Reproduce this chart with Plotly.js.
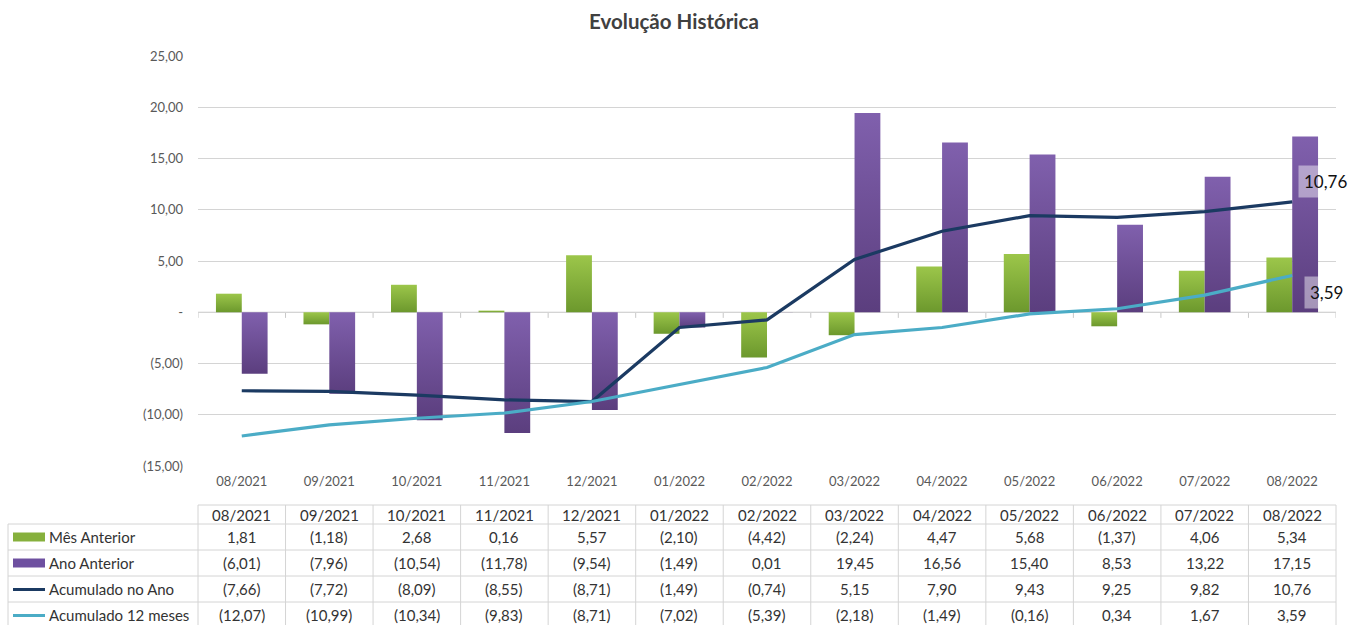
<!DOCTYPE html>
<html>
<head>
<meta charset="utf-8">
<script src="https://cdn.plot.ly/plotly-3.0.1.min.js"></script>
<style>html,body{margin:0;padding:0;background:#fff;}#chart{width:1348px;height:625px;}</style>
</head>
<body>
<div id="chart"></div>
<script>
// ---- data ----
const months = ["08/2021","09/2021","10/2021","11/2021","12/2021","01/2022","02/2022","03/2022","04/2022","05/2022","06/2022","07/2022","08/2022"];
const mesAnterior = [1.81,-1.18,2.68,0.16,5.57,-2.10,-4.42,-2.24,4.47,5.68,-1.37,4.06,5.34];
const anoAnterior = [-6.01,-7.96,-10.54,-11.78,-9.54,-1.49,0.01,19.45,16.56,15.40,8.53,13.22,17.15];
const acumuladoAno = [-7.66,-7.72,-8.09,-8.55,-8.71,-1.49,-0.74,5.15,7.90,9.43,9.25,9.82,10.76];
const acumulado12 = [-12.07,-10.99,-10.34,-9.83,-8.71,-7.02,-5.39,-2.18,-1.49,-0.16,0.34,1.67,3.59];
const seriesNames = ["Mês Anterior","Ano Anterior","Acumulado no Ano","Acumulado 12 meses"];
const yTicks = [25,20,15,10,5,0,-5,-10,-15];

function fmt(v){
  if (v === 0) return "-";
  const s = Math.abs(v).toFixed(2).replace(".", ",");
  return v < 0 ? "(" + s + ")" : s;
}

const W = 1348, H = 625;
const M = {l:198, r:12, t:56, b:159};
const PW = W - M.l - M.r, PH = H - M.t - M.b;
const px = x => (x - M.l) / PW;
const py = y => (H - M.b - y) / PH;

const cGreen = "#86B03C", cPurple = "#6E50A0", cNavy = "#1B3A62", cLight = "#4BACC6";
const font = "Lato, 'Open Sans', sans-serif";

const traces = [
  {type:"bar", name:seriesNames[0], x:months, y:mesAnterior, marker:{color:cGreen}},
  {type:"bar", name:seriesNames[1], x:months, y:anoAnterior, marker:{color:cPurple}},
  {type:"scatter", mode:"lines", name:seriesNames[2], x:months, y:acumuladoAno, line:{color:cNavy, width:3.2}},
  {type:"scatter", mode:"lines", name:seriesNames[3], x:months, y:acumulado12, line:{color:cLight, width:3.2}}
];

const shapes = [];
const annotations = [];
const gridC = "#D4D4D4";

// zero axis line with boundary ticks
shapes.push({type:"line", xref:"paper", yref:"y", x0:0, x1:1, y0:0, y1:0, line:{color:"#C8C8C8", width:1.2}, layer:"below"});
for (let k=0;k<=months.length;k++){
  shapes.push({type:"line", xref:"x", yref:"y", x0:k-0.5, x1:k-0.5, y0:0, y1:-0.55, line:{color:"#C8C8C8", width:1}, layer:"below"});
}

// data table
const rowsY = [505,524,550,576,602,628];
shapes.push({type:"line", xref:"paper", yref:"paper", x0:0, x1:1, y0:py(rowsY[0]), y1:py(rowsY[0]), line:{color:gridC, width:1}});
for (let r=1;r<rowsY.length;r++){
  shapes.push({type:"line", xref:"paper", yref:"paper", x0:px(8), x1:1, y0:py(rowsY[r]), y1:py(rowsY[r]), line:{color:gridC, width:1}});
}
shapes.push({type:"line", xref:"paper", yref:"paper", x0:px(8), x1:px(8), y0:py(rowsY[1]), y1:py(rowsY[5]), line:{color:gridC, width:1}});
for (let k=0;k<=months.length;k++){
  shapes.push({type:"line", xref:"paper", yref:"paper", x0:k/months.length, x1:k/months.length, y0:py(rowsY[0]), y1:py(rowsY[5]), line:{color:gridC, width:1}});
}
const tFont = {family:font, size:15, color:"#333333"};
const rowVals = [mesAnterior, anoAnterior, acumuladoAno, acumulado12];
months.forEach((m,i)=>{
  annotations.push({xref:"x", yref:"paper", x:m, y:py((rowsY[0]+rowsY[1])/2), text:m, showarrow:false, font:tFont, xanchor:"center", yanchor:"middle"});
  rowVals.forEach((arr,r)=>{
    annotations.push({xref:"x", yref:"paper", x:m, y:py((rowsY[r+1]+rowsY[r+2])/2), text:fmt(arr[i]), showarrow:false, font:tFont, xanchor:"center", yanchor:"middle"});
  });
});
// legend keys in table
const keyColors = [cGreen, cPurple, cNavy, cLight];
seriesNames.forEach((n,r)=>{
  const cy = (rowsY[r+1]+rowsY[r+2])/2;
  if (r<2){
    shapes.push({type:"rect", xref:"paper", yref:"paper", x0:px(13), x1:px(45), y0:py(cy-4.5), y1:py(cy+4.5), fillcolor:keyColors[r], line:{width:0}});
  } else {
    shapes.push({type:"line", xref:"paper", yref:"paper", x0:px(13), x1:px(45), y0:py(cy+0.5), y1:py(cy+0.5), line:{color:keyColors[r], width:3}});
  }
  annotations.push({xref:"paper", yref:"paper", x:px(47), y:py(cy), text:n, showarrow:false, font:tFont, xanchor:"left", yanchor:"middle"});
});

// end labels
const last = months.length-1;
annotations.push({xref:"x", yref:"y", x:months[last], y:acumuladoAno[last], text:fmt(acumuladoAno[last]), showarrow:false,
  xanchor:"left", yanchor:"middle", xshift:6, yshift:20, bgcolor:"rgba(255,255,255,0.45)", borderpad:5,
  font:{family:font, size:17, color:"#111"}});
annotations.push({xref:"x", yref:"y", x:months[last], y:acumulado12[last], text:fmt(acumulado12[last]), showarrow:false,
  xanchor:"left", yanchor:"middle", xshift:12, yshift:-17, bgcolor:"rgba(255,255,255,0.45)", borderpad:5,
  font:{family:font, size:17, color:"#111"}});

const layout = {
  width:W, height:H,
  margin:M,
  paper_bgcolor:"#fff", plot_bgcolor:"#fff",
  showlegend:false,
  barmode:"group", bargap:0.41, bargroupgap:0,
  title:{text:"Evolução Histórica", x:0.5, xref:"container", y:1-22/H, yref:"container", yanchor:"middle",
    font:{family:font, size:20.5, color:"#404040", weight:"bold"}},
  xaxis:{type:"category", range:[-0.5, months.length-0.5], autorange:false, showgrid:false, zeroline:false, showline:false, ticks:"",
    tickfont:{family:font, size:13, color:"#595959"}, ticklabelstandoff:6, fixedrange:true},
  yaxis:{range:[-15,25], autorange:false, tickvals:yTicks, ticktext:yTicks.map(fmt), showgrid:true, gridcolor:gridC, gridwidth:1,
    zeroline:false, showline:false, ticks:"", tickfont:{family:font, size:13, color:"#595959"}, ticklabelstandoff:14, fixedrange:true},
  shapes:shapes,
  annotations:annotations,
  font:{family:font}
};

Plotly.newPlot("chart", traces, layout, {displayModeBar:false, staticPlot:true}).then(gd=>{
  // vertical gradients on bars, like the original
  const svg = gd.querySelector(".main-svg");
  const NS = "http://www.w3.org/2000/svg";
  let defs = svg.querySelector("defs");
  const mk = (id, top, bot)=>{
    const g = document.createElementNS(NS,"linearGradient");
    g.setAttribute("id",id); g.setAttribute("x1","0"); g.setAttribute("y1","0"); g.setAttribute("x2","0"); g.setAttribute("y2","1");
    [[0,top],[1,bot]].forEach(([o,c])=>{const s=document.createElementNS(NS,"stop"); s.setAttribute("offset",o); s.setAttribute("stop-color",c); g.appendChild(s);});
    defs.appendChild(g);
  };
  mk("gGreen","#9CC64A","#6C982D");
  mk("gPurple","#8060AD","#5B3E7E");
  const tr = gd.querySelectorAll(".barlayer .trace");
  if (tr[0]) tr[0].querySelectorAll("path").forEach(p=>p.style.fill="url(#gGreen)");
  if (tr[1]) tr[1].querySelectorAll("path").forEach(p=>p.style.fill="url(#gPurple)");
});
</script>
</body>
</html>
